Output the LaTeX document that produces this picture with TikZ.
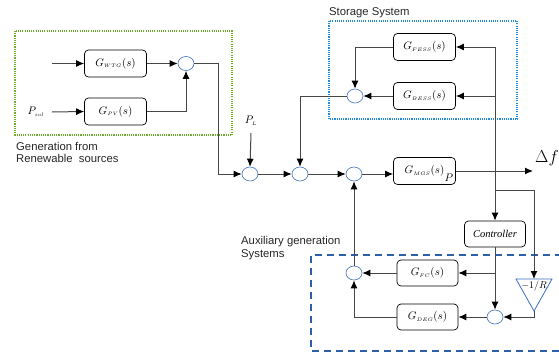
\documentclass[tikz,border=0pt]{standalone}
\usepackage{fontspec}
\setmainfont{Liberation Serif}
\setsansfont{Liberation Sans}
\usetikzlibrary{arrows.meta,shapes.geometric}
\definecolor{linegray}{RGB}{70,70,70}
\definecolor{sumblue}{RGB}{60,110,190}
\definecolor{grnbox}{RGB}{110,175,40}
\definecolor{stobox}{RGB}{35,140,220}
\definecolor{auxbox}{RGB}{45,95,170}
\begin{document}
\begin{tikzpicture}[x=1pt,y=-1pt,
  lbl/.style={font=\sffamily\fontsize{11.3}{13}\selectfont, text=black!85, inner sep=0pt},
  blk/.style={draw, rounded corners=4pt, minimum width=62pt, minimum height=27pt, line width=0.7pt, inner sep=1pt, font=\fontsize{11}{13}\selectfont},
  sumc/.style={draw=sumblue, ellipse, minimum width=16pt, minimum height=14pt, inner sep=0pt, line width=0.6pt},
  con/.style={draw=linegray, line width=1pt},
  arr/.style={con, -{Latex[length=8pt,width=7pt,color=black]}}
]
\useasboundingbox (0,0) rectangle (559,356);

% frames
\draw[grnbox, line width=2.3pt, dash pattern=on 1.1pt off 1.1pt] (15,31) rectangle (232,135);
\draw[stobox, line width=2.2pt, dash pattern=on 1.1pt off 1.1pt] (329,21) rectangle (517,119);
\draw[auxbox, line width=2.2pt, dash pattern=on 7pt off 5pt] (562,255) -- (311,255) -- (311,351) -- (562,351);

% labels
\node[lbl, anchor=base west] (lg1) at (16,150) {Generation from};
\node[lbl, anchor=base west] (lg2) at (16,162) {Renewable\ \ sources};
\node[lbl, anchor=base west] (ls) at (329,15) {Storage System};
\node[lbl, anchor=base west] (la1) at (241,244) {Auxiliary generation};
\node[lbl, anchor=base west] (la2) at (241,257) {Systems};

% renewable generation
\node[blk] (wtg) at (115.5,63.5) {$G_{\scriptscriptstyle WTG}(s)$};
\node[blk] (pv) at (115.5,111.5) {$G_{\scriptscriptstyle PV}(s)$};
\node[sumc] (c1) at (186,63.5) {};
\coordinate (inw) at (52,63.5);
\node[font=\fontsize{11}{13}\selectfont] (psol) at (36,112) {$P_{\scriptscriptstyle sol}$};
\draw[arr] (inw) -- (wtg.west);
\draw[arr] ([xshift=4pt]psol.east) -- (pv.west);
\draw[arr] (wtg.east) -- (c1.west);
\draw[arr] (pv.east) -| (c1.south);

% main line
\node[sumc] (m1) at (250,174) {};
\node[sumc] (m2) at (300,174) {};
\node[sumc] (m3) at (354,174) {};
\coordinate (k1) at (218,174);
\draw[arr] (c1.east) -| (k1) -- (m1.west);
\node[font=\fontsize{11}{13}\selectfont] (pl) at (251,121) {$P_{\scriptscriptstyle L}$};
\draw[arr] ([yshift=-4pt]pl.south) -- (m1.north);
\draw[arr] (m1.east) -- (m2.west);
\draw[arr] (m2.east) -- (m3.west);

\node[blk] (mgs) at (424.5,171) {$G_{\scriptscriptstyle MGS}(s)$\hspace{8pt}};
\node[font=\fontsize{11}{13}\selectfont, inner sep=0pt] (pp) at (449,178) {$P$};
\draw[arr] (m3.east) -- (mgs.west |- m3);
\coordinate (df) at (533,171);
\draw[arr] (mgs.east) -- (df);
\node[font=\fontsize{16}{18}\selectfont] (dft) at (547,158) {$\Delta f$};

% storage
\node[blk] (fess) at (424.5,47) {$G_{\scriptscriptstyle FESS}(s)$};
\node[blk] (bess) at (424.5,96) {$G_{\scriptscriptstyle BESS}(s)$};
\node[sumc] (s1) at (355,96) {};
\draw[arr] (bess.west) -- (s1.east);
\draw[arr] (fess.west) -| (s1.north);
\draw[arr] (s1.west) -| (m2.north);

\node[blk, minimum width=61pt, minimum height=26pt, font=\itshape\fontsize{10.5}{12}\selectfont] (ctrl) at (495,234) {Controller};
\coordinate (vt) at (495,47);
\draw[arr] (vt) -- (ctrl.north);
\draw[arr] (vt) -- (fess.east);
\draw[arr] (vt |- bess) -- (bess.east);

% droop
\coordinate (br) at (495,190);
\coordinate (tri) at (534,279);
\coordinate (apex) at (534,311);
\draw[sumblue, line width=0.8pt] (516,279) -- (552,279) -- (apex) -- cycle;
\node[font=\fontsize{10}{12}\selectfont, inner sep=0pt] (rl) at (534,285.5) {$-1/R$};
\draw[arr] (br) -| (tri);

% auxiliary
\node[blk, minimum width=61pt, minimum height=26pt] (fc) at (427.5,273) {$G_{\scriptscriptstyle FC}(s)$};
\node[blk, minimum width=61pt, minimum height=26pt] (deg) at (427.5,317) {$G_{\scriptscriptstyle DEG}(s)$};
\node[sumc] (c6) at (495,317) {};
\node[sumc] (c5) at (354,273) {};
\coordinate (cb) at (495,273);
\draw[con] (ctrl.south) -- (cb);
\draw[arr] (cb) -- (fc.east);
\draw[arr] (cb) -- (c6.north);
\draw[arr] (apex) |- (c6.east);
\draw[arr] (c6.west) -- (deg.east);
\draw[arr] (fc.west) -- (c5.east);
\draw[arr] (deg.west) -| (c5.south);
\draw[arr] (c5.north) -- (m3.south);
\end{tikzpicture}
\end{document}
